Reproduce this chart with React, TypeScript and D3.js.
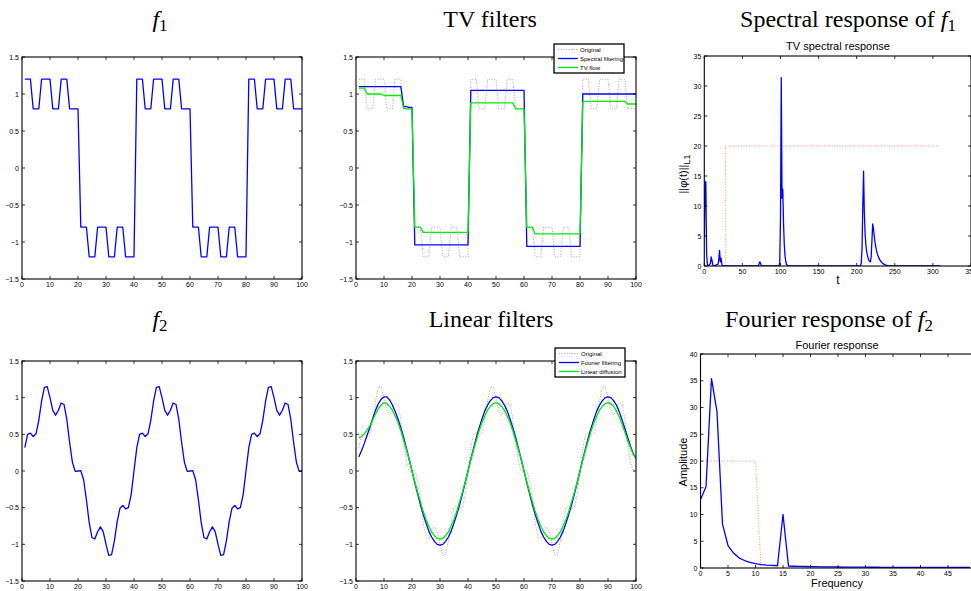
import React from "react";
import * as d3 from "d3";

// ---------- data ----------
const sampleIndex = d3.range(1, 101);

const f1 = [
  1.2, 1.2, 1.2, 0.8, 0.8, 0.8, 1.2, 1.2, 1.2, 1.2, 0.8, 0.8, 0.8, 1.2, 1.2, 1.2, 0.8, 0.8, 0.8, 0.8,
  -0.8, -0.8, -0.8, -1.2, -1.2, -1.2, -0.8, -0.8, -0.8, -0.8, -1.2, -1.2, -1.2, -0.8, -0.8, -0.8, -1.2, -1.2, -1.2, -1.2,
  1.2, 1.2, 1.2, 0.8, 0.8, 0.8, 1.2, 1.2, 1.2, 1.2, 0.8, 0.8, 0.8, 1.2, 1.2, 1.2, 0.8, 0.8, 0.8, 0.8,
  -0.8, -0.8, -0.8, -1.2, -1.2, -1.2, -0.8, -0.8, -0.8, -0.8, -1.2, -1.2, -1.2, -0.8, -0.8, -0.8, -1.2, -1.2, -1.2, -1.2,
  1.2, 1.2, 1.2, 0.8, 0.8, 0.8, 1.2, 1.2, 1.2, 1.2, 0.8, 0.8, 0.8, 1.2, 1.2, 1.2, 0.8, 0.8, 0.8, 0.8,
];

const spectralFiltering = [
  1.1, 1.1, 1.1, 1.1, 1.1, 1.1, 1.1, 1.1, 1.1, 1.1, 1.1, 1.1, 1.1, 1.1, 1.1, 1.1, 0.83, 0.83, 0.82, 0.82,
  -1.04, -1.04, -1.04, -1.04, -1.04, -1.04, -1.04, -1.04, -1.04, -1.04, -1.04, -1.04, -1.04, -1.04, -1.04, -1.04, -1.04, -1.04, -1.04, -1.04,
  1.05, 1.05, 1.05, 1.05, 1.05, 1.05, 1.05, 1.05, 1.05, 1.05, 1.05, 1.05, 1.05, 1.05, 1.05, 1.05, 1.05, 1.05, 1.05, 1.05,
  -1.06, -1.06, -1.06, -1.06, -1.06, -1.06, -1.06, -1.06, -1.06, -1.06, -1.06, -1.06, -1.06, -1.06, -1.06, -1.06, -1.06, -1.06, -1.06, -1.06,
  1.0, 1.0, 1.0, 1.0, 1.0, 1.0, 1.0, 1.0, 1.0, 1.0, 1.0, 1.0, 1.0, 1.0, 1.0, 1.0, 1.0, 1.0, 1.0, 1.0,
];

const tvFlow = [
  1.08, 1.08, 1.08, 1.0, 1.0, 1.0, 1.0, 1.0, 1.0, 0.98, 0.98, 0.98, 0.98, 0.98, 0.98, 0.98, 0.81, 0.8, 0.8, 0.8,
  -0.8, -0.8, -0.8, -0.87, -0.87, -0.87, -0.87, -0.87, -0.87, -0.87, -0.87, -0.87, -0.87, -0.87, -0.87, -0.87, -0.87, -0.87, -0.87, -0.87,
  0.88, 0.88, 0.88, 0.88, 0.88, 0.88, 0.88, 0.88, 0.88, 0.88, 0.88, 0.88, 0.88, 0.88, 0.88, 0.88, 0.8, 0.8, 0.8, 0.8,
  -0.8, -0.8, -0.8, -0.89, -0.89, -0.89, -0.89, -0.89, -0.89, -0.89, -0.89, -0.89, -0.89, -0.89, -0.89, -0.89, -0.89, -0.89, -0.89, -0.89,
  0.9, 0.9, 0.9, 0.9, 0.9, 0.9, 0.9, 0.9, 0.9, 0.9, 0.9, 0.9, 0.9, 0.9, 0.9, 0.9, 0.865, 0.865, 0.865, 0.865,
];

const f2 = [
  0.318, 0.499, 0.516, 0.47, 0.507, 0.691, 0.953, 1.141, 1.15, 1.0, 0.826, 0.761, 0.829, 0.927, 0.907, 0.705, 0.392, 0.119, -0.005, 0.0,
  0.005, -0.119, -0.392, -0.705, -0.907, -0.927, -0.829, -0.761, -0.826, -1.0, -1.15, -1.141, -0.953, -0.691, -0.507, -0.47, -0.516, -0.499, -0.318, 0.0,
  0.318, 0.499, 0.516, 0.47, 0.507, 0.691, 0.953, 1.141, 1.15, 1.0, 0.826, 0.761, 0.829, 0.927, 0.907, 0.705, 0.392, 0.119, -0.005, 0.0,
  0.005, -0.119, -0.392, -0.705, -0.907, -0.927, -0.829, -0.761, -0.826, -1.0, -1.15, -1.141, -0.953, -0.691, -0.507, -0.47, -0.516, -0.499, -0.318, 0.0,
  0.318, 0.499, 0.516, 0.47, 0.507, 0.691, 0.953, 1.141, 1.15, 1.0, 0.826, 0.761, 0.829, 0.927, 0.907, 0.705, 0.392, 0.119, -0.005, 0.0,
];

const fourierFiltering = [
  0.19, 0.28, 0.38, 0.49, 0.6, 0.72, 0.83, 0.92, 0.98, 1.01, 1.01, 0.97, 0.9, 0.81, 0.71, 0.59, 0.46, 0.31, 0.16, 0.0,
  -0.16, -0.31, -0.46, -0.59, -0.71, -0.82, -0.9, -0.96, -1.0, -1.01, -1.0, -0.96, -0.9, -0.82, -0.71, -0.59, -0.46, -0.31, -0.16, 0.0,
  0.16, 0.31, 0.46, 0.59, 0.71, 0.82, 0.9, 0.96, 1.0, 1.01, 1.0, 0.96, 0.9, 0.82, 0.71, 0.59, 0.46, 0.31, 0.16, 0.0,
  -0.16, -0.31, -0.46, -0.59, -0.71, -0.82, -0.9, -0.96, -1.0, -1.01, -1.0, -0.96, -0.9, -0.82, -0.71, -0.59, -0.46, -0.31, -0.16, 0.0,
  0.16, 0.31, 0.46, 0.59, 0.71, 0.82, 0.9, 0.96, 1.0, 1.01, 1.0, 0.96, 0.9, 0.81, 0.7, 0.58, 0.46, 0.34, 0.24, 0.17,
];

const linearDiffusion = [
  0.45, 0.47, 0.51, 0.56, 0.62, 0.7, 0.78, 0.85, 0.9, 0.93, 0.92, 0.88, 0.83, 0.75, 0.66, 0.55, 0.42, 0.29, 0.15, 0.0,
  -0.15, -0.29, -0.42, -0.55, -0.66, -0.75, -0.83, -0.88, -0.92, -0.93, -0.92, -0.88, -0.83, -0.75, -0.66, -0.55, -0.42, -0.29, -0.15, 0.0,
  0.15, 0.29, 0.42, 0.55, 0.66, 0.75, 0.83, 0.88, 0.92, 0.93, 0.92, 0.88, 0.83, 0.75, 0.66, 0.55, 0.42, 0.29, 0.15, 0.0,
  -0.15, -0.29, -0.42, -0.55, -0.66, -0.75, -0.83, -0.88, -0.92, -0.93, -0.92, -0.88, -0.83, -0.75, -0.66, -0.55, -0.42, -0.29, -0.15, 0.0,
  0.15, 0.29, 0.42, 0.55, 0.66, 0.75, 0.83, 0.88, 0.92, 0.93, 0.92, 0.88, 0.82, 0.74, 0.64, 0.53, 0.42, 0.32, 0.23, 0.18,
];

// TV spectral response (t, value)
const spectralT = [
  0, 1, 2, 3, 4, 5, 8, 9, 10, 11, 12, 16, 18, 19, 20, 21, 22, 23, 24,
  71, 72, 73, 74, 75, 98, 99, 100, 101, 102, 103, 104, 105, 106, 107, 108, 110,
  205, 206, 207, 208, 209, 210, 211, 212, 213, 214, 215, 216, 217, 218, 219, 220, 221, 222, 223, 224, 225, 226, 227, 228, 230, 232, 235, 238, 242, 250, 310,
];
const spectralPhi = [
  4.8, 14.1, 14.0, 2.0, 0.3, 0.0, 0.4, 1.5, 1.0, 0.3, 0.0, 0.2, 0.3, 1.0, 2.6, 0.7, 1.3, 0.3, 0.0,
  0.0, 0.4, 0.7, 0.35, 0.0, 0.0, 0.5, 8.0, 31.4, 11.3, 12.8, 7.0, 3.5, 1.6, 0.7, 0.25, 0.0,
  0.0, 0.5, 3.0, 10.0, 15.8, 9.0, 5.5, 3.6, 2.5, 1.8, 1.3, 0.95, 0.75, 0.7, 1.6, 4.2, 7.0, 6.2, 5.0, 4.0, 3.2, 2.6, 2.1, 1.7, 1.1, 0.7, 0.35, 0.15, 0.03, 0.0, 0.0,
];
const spectralFilterT = [28, 28, 308];
const spectralFilterV = [0, 20, 20];

// Fourier response
const frequency = d3.range(0, 50);
const amplitude = [
  12.8, 15.2, 35.4, 29.2, 8.2, 4.2, 2.8, 1.9, 1.4, 1.05, 0.8, 0.65, 0.55, 0.48, 0.42, 10.0, 0.36, 0.33, 0.3, 0.28,
  0.26, 0.24, 0.22, 0.21, 0.2, 0.19, 0.18, 0.17, 0.16, 0.15, 0.15, 0.14, 0.14, 0.13, 0.13, 0.12, 0.12, 0.12, 0.11, 0.11,
  0.11, 0.1, 0.1, 0.1, 0.1, 0.1, 0.09, 0.09, 0.09, 0.09,
];
const fourierFilterF = [1, 10, 11];
const fourierFilterV = [20, 20, 0];

const signalTicksY = [-1.5, -1, -0.5, 0, 0.5, 1, 1.5];
const signalTicksX = [0, 10, 20, 30, 40, 50, 60, 70, 80, 90, 100];
const spectralTicksX = [0, 50, 100, 150, 200, 250, 300, 350];
const spectralTicksY = [0, 5, 10, 15, 20, 25, 30, 35];
const fourierTicksX = [0, 5, 10, 15, 20, 25, 30, 35, 40, 45, 50];
const fourierTicksY = [0, 5, 10, 15, 20, 25, 30, 35, 40];

// ---------- drawing ----------
const BLUE = "#0000ff";
const GREEN = "#00ee00";
const GRAY = "#9a9a9a";
const PINK = "#ff8080";
const TICK_FONT = "'Liberation Sans', Arial, Helvetica, sans-serif";
const TITLE_FONT = "'Liberation Serif', 'Times New Roman', serif";

const fmt = (d: number) => (d < 0 ? "\u2212" + String(Math.abs(d)) : String(d));

type S = { xs: number[]; ys: number[]; color: string; width: number; dash?: string };

function Panel(props: {
  id: string;
  x0: number; x1: number; y0: number; y1: number;
  xDomain: [number, number]; yDomain: [number, number];
  xTicks: number[]; yTicks: number[];
  series: S[];
}) {
  const { id, x0, x1, y0, y1, xDomain, yDomain, xTicks, yTicks, series } = props;
  const xs = d3.scaleLinear().domain(xDomain).range([x0, x1]);
  const ys = d3.scaleLinear().domain(yDomain).range([y1, y0]);
  const tl = 3;
  return (
    <g>
      <defs>
        <clipPath id={id}>
          <rect x={x0} y={y0} width={x1 - x0} height={y1 - y0} />
        </clipPath>
      </defs>
      <rect x={x0} y={y0} width={x1 - x0} height={y1 - y0} fill="#fff" />
      <g clipPath={`url(#${id})`}>
        {series.map((s, i) => {
          const pts: [number, number][] = s.xs.map((x, k) => [x, s.ys[k]]);
          const path = d3.line<[number, number]>().x((d) => xs(d[0])).y((d) => ys(d[1]))(pts) || "";
          return (
            <path key={i} d={path} fill="none" stroke={s.color} strokeWidth={s.width}
              strokeDasharray={s.dash} strokeLinejoin="round" />
          );
        })}
      </g>
      {/* ticks */}
      {xTicks.map((t) => (
        <g key={"xt" + t}>
          <line x1={xs(t)} x2={xs(t)} y1={y1} y2={y1 - tl} stroke="#000" strokeWidth={0.8} />
          <line x1={xs(t)} x2={xs(t)} y1={y0} y2={y0 + tl} stroke="#000" strokeWidth={0.8} />
          <text x={xs(t)} y={y1 + 8} fontSize={7} fontFamily={TICK_FONT} textAnchor="middle" fill="#000">
            {fmt(t)}
          </text>
        </g>
      ))}
      {yTicks.map((t) => (
        <g key={"yt" + t}>
          <line x1={x0} x2={x0 + tl} y1={ys(t)} y2={ys(t)} stroke="#000" strokeWidth={0.8} />
          <line x1={x1} x2={x1 - tl} y1={ys(t)} y2={ys(t)} stroke="#000" strokeWidth={0.8} />
          <text x={x0 - 3} y={ys(t) + 2.5} fontSize={7} fontFamily={TICK_FONT} textAnchor="end" fill="#000">
            {fmt(t)}
          </text>
        </g>
      ))}
      <rect x={x0} y={y0} width={x1 - x0} height={y1 - y0} fill="none" stroke="#000" strokeWidth={1.1} />
    </g>
  );
}

function Legend(props: { x: number; y: number; items: { label: string; color: string; width: number; dash?: string }[] }) {
  const { x, y, items } = props;
  return (
    <g>
      <rect x={x} y={y} width={70} height={29} fill="#fff" stroke="#000" strokeWidth={1.3} />
      {items.map((it, i) => (
        <g key={i}>
          <line x1={x + 4} x2={x + 24} y1={y + 5.5 + i * 9} y2={y + 5.5 + i * 9} stroke={it.color}
            strokeWidth={it.width} strokeDasharray={it.dash} />
          <text x={x + 26} y={y + 7.5 + i * 9} fontSize={6} fontFamily={TICK_FONT} fill="#000">
            {it.label}
          </text>
        </g>
      ))}
    </g>
  );
}

function MathTitle(props: { x: number; y: number; prefix?: string; sub?: string; anchor?: string }) {
  const { x, y, prefix, sub, anchor } = props;
  return (
    <text x={x} y={y} fontSize={24} fontFamily={TITLE_FONT} textAnchor={anchor || "middle"} fill="#000">
      {prefix ? <tspan>{prefix}</tspan> : null}
      {sub ? (
        <>
          <tspan fontStyle="italic">f</tspan>
          <tspan fontSize={17} dy={4}>{sub}</tspan>
        </>
      ) : null}
    </text>
  );
}

export default function App() {
  return (
    <svg width={971} height={591} style={{ position: "absolute", left: 0, top: 0, background: "#fff" }}>
      <rect x={0} y={0} width={971} height={591} fill="#fff" />

      {/* titles */}
      <MathTitle x={160} y={27} sub="1" />
      <text x={490} y={27} fontSize={24} fontFamily={TITLE_FONT} textAnchor="middle">TV filters</text>
      <MathTitle x={848} y={27} prefix="Spectral response of " sub="1" />
      <MathTitle x={160} y={327} sub="2" />
      <text x={491} y={327} fontSize={24} fontFamily={TITLE_FONT} textAnchor="middle">Linear filters</text>
      <MathTitle x={829} y={327} prefix="Fourier response of " sub="2" />

      {/* top-left: f1 */}
      <Panel id="p1" x0={22} x1={302} y0={57} y1={279} xDomain={[0, 100]} yDomain={[-1.5, 1.5]}
        xTicks={signalTicksX} yTicks={signalTicksY}
        series={[{ xs: sampleIndex, ys: f1, color: BLUE, width: 1.3 }]} />

      {/* top-middle: TV filters */}
      <Panel id="p2" x0={356} x1={636} y0={57} y1={279} xDomain={[0, 100]} yDomain={[-1.5, 1.5]}
        xTicks={signalTicksX} yTicks={signalTicksY}
        series={[
          { xs: sampleIndex, ys: f1, color: GRAY, width: 0.9, dash: "1,1.6" },
          { xs: sampleIndex, ys: spectralFiltering, color: BLUE, width: 1.3 },
          { xs: sampleIndex, ys: tvFlow, color: GREEN, width: 1.3 },
        ]} />
      <Legend x={554} y={44} items={[
        { label: "Original", color: GRAY, width: 0.9, dash: "1,1.6" },
        { label: "Spectral filtering", color: BLUE, width: 1.3 },
        { label: "TV flow", color: GREEN, width: 1.3 },
      ]} />

      {/* top-right: TV spectral response */}
      <Panel id="p3" x0={704.3} x1={971} y0={56} y1={266} xDomain={[0, 350]} yDomain={[0, 35]}
        xTicks={spectralTicksX} yTicks={spectralTicksY}
        series={[
          { xs: spectralFilterT, ys: spectralFilterV, color: PINK, width: 0.9, dash: "1,1.6" },
          { xs: spectralT, ys: spectralPhi, color: BLUE, width: 1.3 },
        ]} />
      <text x={838} y={50} fontSize={11} fontFamily={TICK_FONT} textAnchor="middle">TV spectral response</text>
      <text x={838} y={284} fontSize={12} fontFamily={TICK_FONT} textAnchor="middle">t</text>
      <text transform="translate(687,174) rotate(-90)" fontSize={11} fontFamily={TICK_FONT} textAnchor="middle">
        ||φ(t)||<tspan fontSize={9} dy={3}>L1</tspan>
      </text>

      {/* bottom-left: f2 */}
      <Panel id="p4" x0={22} x1={302} y0={361} y1={581} xDomain={[0, 100]} yDomain={[-1.5, 1.5]}
        xTicks={signalTicksX} yTicks={signalTicksY}
        series={[{ xs: sampleIndex, ys: f2, color: BLUE, width: 1.3 }]} />

      {/* bottom-middle: linear filters */}
      <Panel id="p5" x0={356} x1={636} y0={361} y1={581} xDomain={[0, 100]} yDomain={[-1.5, 1.5]}
        xTicks={signalTicksX} yTicks={signalTicksY}
        series={[
          { xs: sampleIndex, ys: f2, color: GRAY, width: 0.9, dash: "1,1.6" },
          { xs: sampleIndex, ys: fourierFiltering, color: BLUE, width: 1.3 },
          { xs: sampleIndex, ys: linearDiffusion, color: GREEN, width: 1.3 },
        ]} />
      <Legend x={555} y={348} items={[
        { label: "Original", color: GRAY, width: 0.9, dash: "1,1.6" },
        { label: "Fourier filtering", color: BLUE, width: 1.3 },
        { label: "Linear diffusion", color: GREEN, width: 1.3 },
      ]} />

      {/* bottom-right: Fourier response */}
      <Panel id="p6" x0={700.5} x1={975.5} y0={354} y1={568} xDomain={[0, 50]} yDomain={[0, 40]}
        xTicks={fourierTicksX} yTicks={fourierTicksY}
        series={[
          { xs: fourierFilterF, ys: fourierFilterV, color: PINK, width: 0.9, dash: "1,1.6" },
          { xs: frequency, ys: amplitude, color: BLUE, width: 1.3 },
        ]} />
      <text x={837} y={349} fontSize={11} fontFamily={TICK_FONT} textAnchor="middle">Fourier response</text>
      <text x={837} y={587} fontSize={11} fontFamily={TICK_FONT} textAnchor="middle">Frequency</text>
      <text transform="translate(687,462) rotate(-90)" fontSize={11} fontFamily={TICK_FONT} textAnchor="middle">
        Amplitude
      </text>
    </svg>
  );
}
